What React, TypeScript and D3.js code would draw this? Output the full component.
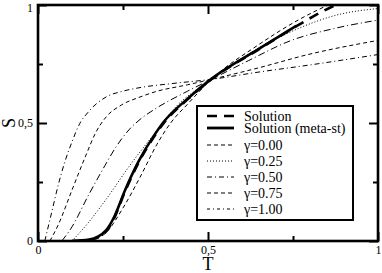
import { useEffect, useRef } from 'react';
import * as d3 from 'd3';

// curves, [T, S]
const solution = [[0.10, 0], [0.15, 0.004], [0.20, 0.04], [0.225, 0.1], [0.256, 0.21], [0.295, 0.33], [0.345, 0.45], [0.37, 0.5], [0.44, 0.6], [0.51, 0.685], [0.647, 0.81], [0.76, 0.91], [0.82, 0.96], [0.875, 1.0]];
const solutionMeta = [[0.10, 0], [0.15, 0.006], [0.20, 0.045], [0.225, 0.105], [0.256, 0.215], [0.295, 0.335], [0.345, 0.455], [0.37, 0.505], [0.44, 0.603], [0.51, 0.687], [0.647, 0.812], [0.76, 0.912]];
const gamma000 = [[0.15, 0], [0.2, 0.035], [0.25, 0.14], [0.3, 0.27], [0.35, 0.41], [0.39, 0.5], [0.44, 0.58], [0.51, 0.685], [0.647, 0.83], [0.765, 0.936], [0.853, 1.0]];
const gamma025 = [[0.10, 0], [0.147, 0.076], [0.197, 0.17], [0.27, 0.32], [0.345, 0.46], [0.4, 0.56], [0.51, 0.685], [0.6, 0.775], [0.765, 0.9], [0.88, 0.958], [1, 0.985]];
const gamma050 = [[0.07, 0], [0.1, 0.06], [0.147, 0.19], [0.197, 0.32], [0.23, 0.4], [0.27, 0.475], [0.3, 0.515], [0.345, 0.56], [0.44, 0.635], [0.51, 0.685], [0.62, 0.765], [0.745, 0.85], [0.87, 0.9], [1, 0.936]];
const gamma075 = [[0.035, 0], [0.06, 0.07], [0.1, 0.216], [0.14, 0.36], [0.17, 0.46], [0.2, 0.525], [0.245, 0.576], [0.3, 0.61], [0.344, 0.632], [0.44, 0.662], [0.51, 0.685], [0.647, 0.733], [0.794, 0.79], [1, 0.85]];
const gamma100 = [[0.02, 0], [0.04, 0.12], [0.06, 0.24], [0.08, 0.34], [0.1, 0.42], [0.12, 0.49], [0.15, 0.55], [0.2, 0.61], [0.25, 0.635], [0.3, 0.65], [0.4, 0.668], [0.51, 0.685], [0.65, 0.716], [0.8, 0.746], [1, 0.79]];

const legendLabels = ['Solution', 'Solution (meta-st)', 'γ=0.00', 'γ=0.25', 'γ=0.50', 'γ=0.75', 'γ=1.00'];
const majorTicks = [0, 0.5, 1];
const minorTicks = [0.25, 0.75];

const FONT = 'Liberation Serif';

const series = [
  { data: gamma100, width: 1, dash: '5,3,1,3' },
  { data: gamma075, width: 1, dash: '4,3' },
  { data: gamma050, width: 1, dash: '7,3,1,3' },
  { data: gamma025, width: 1, dash: '1,2' },
  { data: gamma000, width: 1, dash: '4,3' },
  { data: solutionMeta, width: 2.6, dash: null },
  { data: solution, width: 2.6, dash: '10,7' },
];

const legendStyles = [
  { width: 2.6, dash: '10,7' },
  { width: 2.8, dash: null },
  { width: 1, dash: '4,3' },
  { width: 1, dash: '1,2' },
  { width: 1, dash: '5,3,1,3' },
  { width: 1, dash: '4,3' },
  { width: 1, dash: '3,3,1,3' },
];
const legendRowY = [116, 128, 145, 161, 177, 193, 209];

const fmt = (d: number) => (d === 0.5 ? '0,5' : String(d));

const App = () => {
  const svgRef = useRef<SVGSVGElement>(null);

  useEffect(() => {
    const W = 382, H = 273;
    const margin = { top: 5, right: 4, bottom: 32, left: 38 };
    const width = W - margin.left - margin.right;
    const height = H - margin.top - margin.bottom;

    const root = d3.select(svgRef.current);
    root.selectAll('*').remove();

    const svg = root.append('g').attr('transform', `translate(${margin.left},${margin.top})`);

    const x = d3.scaleLinear().domain([0, 1]).range([0, width]);
    const y = d3.scaleLinear().domain([0, 1]).range([height, 0]);

    root.append('defs').append('clipPath').attr('id', 'plotclip')
      .append('rect').attr('width', width).attr('height', height);

    const line = d3.line<number[]>()
      .x(d => x(d[0]))
      .y(d => y(d[1]))
      .curve(d3.curveMonotoneX);

    const curves = svg.append('g').attr('clip-path', 'url(#plotclip)');
    series.forEach(s => {
      curves.append('path')
        .attr('d', line(s.data))
        .attr('fill', 'none')
        .attr('stroke', '#000')
        .attr('stroke-width', s.width)
        .attr('stroke-dasharray', s.dash)
        .attr('stroke-linejoin', 'round');
    });

    const styleAxis = (g: any) => {
      g.select('.domain').remove();
      g.selectAll('.tick line').attr('stroke-width', 2);
      g.selectAll('text').attr('font-family', FONT).attr('font-size', 12).attr('fill', '#000');
    };

    svg.append('g').attr('transform', `translate(0,${height})`)
      .call(d3.axisBottom(x).tickValues(majorTicks).tickSize(-9).tickPadding(4).tickFormat(fmt as any)).call(styleAxis);
    svg.append('g').attr('transform', `translate(0,${height})`)
      .call(d3.axisBottom(x).tickValues(minorTicks).tickSize(-5).tickFormat(() => '')).call(styleAxis);
    const yAx = svg.append('g')
      .call(d3.axisLeft(y).tickValues(majorTicks).tickSize(-9).tickPadding(5).tickFormat(fmt as any)).call(styleAxis);
    yAx.selectAll('.tick text').filter((d: any) => d === 1).attr('dy', '0.55em');
    svg.append('g')
      .call(d3.axisLeft(y).tickValues(minorTicks).tickSize(-5).tickFormat(() => '')).call(styleAxis);
    svg.append('g')
      .call(d3.axisTop(x).tickValues(majorTicks).tickSize(-9).tickFormat(() => '')).call(styleAxis);
    svg.append('g')
      .call(d3.axisTop(x).tickValues(minorTicks).tickSize(-5).tickFormat(() => '')).call(styleAxis);
    svg.append('g').attr('transform', `translate(${width},0)`)
      .call(d3.axisRight(y).tickValues(majorTicks).tickSize(-9).tickFormat(() => '')).call(styleAxis);
    svg.append('g').attr('transform', `translate(${width},0)`)
      .call(d3.axisRight(y).tickValues(minorTicks).tickSize(-5).tickFormat(() => '')).call(styleAxis);

    svg.append('rect')
      .attr('width', width).attr('height', height)
      .attr('fill', 'none').attr('stroke', '#000').attr('stroke-width', 2.6);

    // axis titles
    svg.append('text')
      .attr('x', width / 2).attr('y', height + 29)
      .attr('text-anchor', 'middle')
      .attr('font-family', FONT).attr('font-size', 18)
      .text('T');
    svg.append('text')
      .attr('transform', `translate(${-23},${y(0.5)}) rotate(-90)`)
      .attr('text-anchor', 'middle')
      .attr('font-family', FONT).attr('font-size', 18)
      .text('S');

    // legend
    const lg = root.append('g');
    lg.append('rect')
      .attr('x', 197).attr('y', 106).attr('width', 156).attr('height', 114)
      .attr('fill', '#fff').attr('stroke', '#000').attr('stroke-width', 2);
    legendLabels.forEach((lab, i) => {
      const yy = legendRowY[i];
      lg.append('line')
        .attr('x1', 207).attr('x2', 234).attr('y1', yy).attr('y2', yy)
        .attr('stroke', '#000')
        .attr('stroke-width', legendStyles[i].width)
        .attr('stroke-dasharray', legendStyles[i].dash);
      lg.append('text')
        .attr('x', 244).attr('y', yy + 5)
        .attr('font-family', FONT).attr('font-size', 14)
        .text(lab);
    });
  }, []);

  return (
    <svg ref={svgRef} width={382} height={273}
      style={{ position: 'absolute', left: 0, top: 0, background: '#fff' }} />
  );
};

export default App;
